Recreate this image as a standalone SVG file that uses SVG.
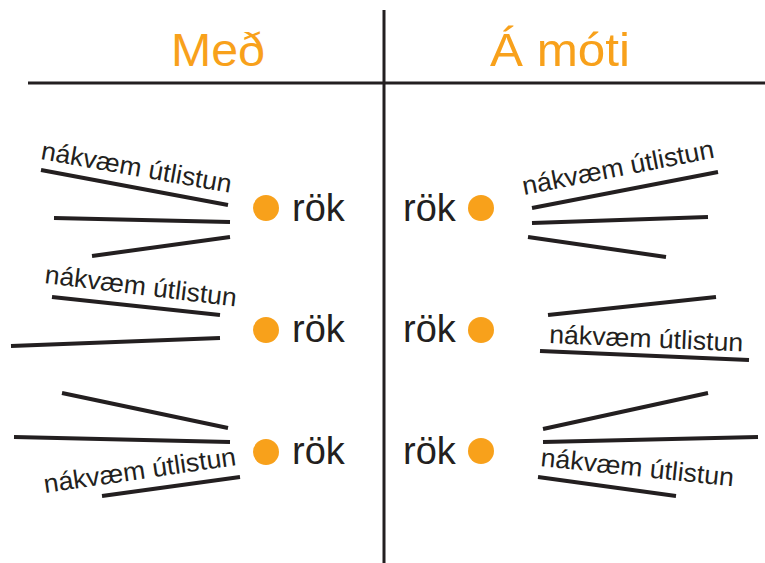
<svg xmlns="http://www.w3.org/2000/svg" width="765" height="563" viewBox="0 0 765 563">
<style>
.t{font-family:"Liberation Sans",Arial,Helvetica,sans-serif;fill:#231f20}
.h{font-family:"Liberation Sans",Arial,Helvetica,sans-serif;fill:#f8a11b;font-size:47px}
.r{font-size:38px}
.d{font-size:26px}
.ln{stroke:#231f20;stroke-width:4;fill:none}
.ax{stroke:#231f20;stroke-width:3;fill:none}
.dot{fill:#f8a11b}
</style>
<rect width="765" height="563" fill="#fff"/>
<g id="axes">
<line class="ax" x1="384" y1="10" x2="384" y2="563"/>
<line class="ax" x1="28" y1="83" x2="765" y2="83"/>
</g>
<g id="headers">
<text class="h" x="171" y="66" textLength="94" lengthAdjust="spacingAndGlyphs">Með</text>
<text class="h" x="490" y="66" textLength="140" lengthAdjust="spacingAndGlyphs">Á móti</text>
</g>
<g id="left1">
<circle class="dot" cx="266" cy="208" r="13"/>
<text class="t r" x="292" y="221">rök</text>
</g>
<g id="left2">
<circle class="dot" cx="266" cy="330" r="13"/>
<text class="t r" x="292" y="342">rök</text>
</g>
<g id="left3">
<circle class="dot" cx="266" cy="452" r="13"/>
<text class="t r" x="292" y="464">rök</text>
</g>
<g id="right1">
<circle class="dot" cx="481" cy="208" r="13"/>
<text class="t r" x="403" y="221">rök</text>
</g>
<g id="right2">
<circle class="dot" cx="481" cy="330" r="13"/>
<text class="t r" x="403" y="342">rök</text>
</g>
<g id="right3">
<circle class="dot" cx="481" cy="451" r="13"/>
<text class="t r" x="403" y="464">rök</text>
</g>
<g id="labels">
<text class="t d" transform="translate(40,159) rotate(10.1)" textLength="193" lengthAdjust="spacingAndGlyphs">nákvæm útlistun</text>
<text class="t d" transform="translate(524,195) rotate(-11.1)" textLength="195" lengthAdjust="spacingAndGlyphs">nákvæm útlistun</text>
<text class="t d" transform="translate(44,283) rotate(7)" textLength="193" lengthAdjust="spacingAndGlyphs">nákvæm útlistun</text>
<text class="t d" transform="translate(549,343) rotate(2.5)" textLength="194" lengthAdjust="spacingAndGlyphs">nákvæm útlistun</text>
<text class="t d" transform="translate(45,493) rotate(-8.3)" textLength="194" lengthAdjust="spacingAndGlyphs">nákvæm útlistun</text>
<text class="t d" transform="translate(540,466) rotate(6)" textLength="194" lengthAdjust="spacingAndGlyphs">nákvæm útlistun</text>
</g>
<g id="connectors">
<line class="ln" x1="41" y1="170" x2="228" y2="205"/>
<line class="ln" x1="54" y1="218" x2="230" y2="222"/>
<line class="ln" x1="92" y1="256" x2="230" y2="237"/>
<line class="ln" x1="532" y1="208" x2="718" y2="172"/>
<line class="ln" x1="532" y1="223" x2="708" y2="217"/>
<line class="ln" x1="528" y1="237" x2="666" y2="257"/>
<line class="ln" x1="52" y1="297" x2="220" y2="315"/>
<line class="ln" x1="11" y1="346" x2="220" y2="338"/>
<line class="ln" x1="548" y1="315" x2="716" y2="297"/>
<line class="ln" x1="540" y1="351" x2="749" y2="360"/>
<line class="ln" x1="62" y1="393" x2="228" y2="428"/>
<line class="ln" x1="14" y1="437" x2="230" y2="442"/>
<line class="ln" x1="102" y1="496" x2="240" y2="477"/>
<line class="ln" x1="543" y1="429" x2="708" y2="393"/>
<line class="ln" x1="543" y1="442" x2="758" y2="437"/>
<line class="ln" x1="538" y1="477" x2="676" y2="496"/>
</g>
</svg>
